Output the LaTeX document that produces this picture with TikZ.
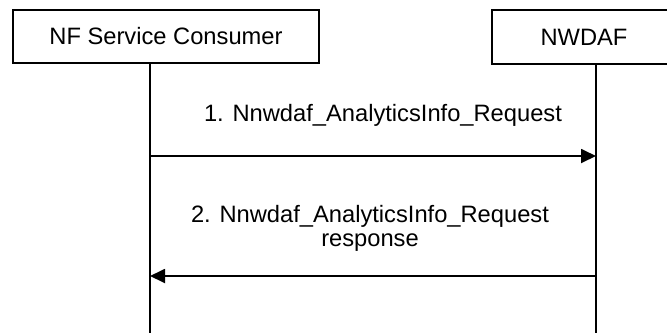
\documentclass[tikz,border=0pt]{standalone}
\usepackage{fontspec}
\setmainfont{Liberation Sans}
\usetikzlibrary{arrows.meta, positioning}

\begin{document}
\begin{tikzpicture}[
  x=1pt, y=-1pt,
  entity/.style={draw, line width=1.6pt, inner sep=0pt, font=\fontsize{23.7}{27}\selectfont},
  life/.style={line width=1.4pt},
  msg/.style={-{Triangle[length=15pt, width=14pt]}, line width=1.8pt},
  msglabel/.style={anchor=base, align=center, font=\fontsize{23.7}{24}\selectfont}
]
  \useasboundingbox (0,0) rectangle (667,333);

  % entities
  \node[entity, minimum width=306pt, minimum height=53pt] (cons) at (166,36.5) {NF Service Consumer};
  \node[entity, minimum width=184pt, minimum height=54pt] (nwdaf) at (584,37) {NWDAF};

  % lifelines
  \coordinate (consEnd) at (150,333);
  \coordinate (nwdafEnd) at (596,333);
  \draw[life] (cons.south -| consEnd) -- (consEnd);
  \draw[life] (nwdaf.south -| nwdafEnd) -- (nwdafEnd);

  % messages
  \coordinate (reqA) at (150,156);
  \coordinate (reqB) at (596,156);
  \coordinate (rspA) at (150,276);
  \coordinate (rspB) at (596,276);
  \draw[msg] (reqA) -- (reqB);
  \draw[msg] (rspB) -- (rspA);

  \node[msglabel] (reqLabel) at (383,121.7) {1. Nnwdaf\_AnalyticsInfo\_Request};
  \node[msglabel, anchor=north] (rspLabel) at (370,202) {2. Nnwdaf\_AnalyticsInfo\_Request\\response};
\end{tikzpicture}
\end{document}
